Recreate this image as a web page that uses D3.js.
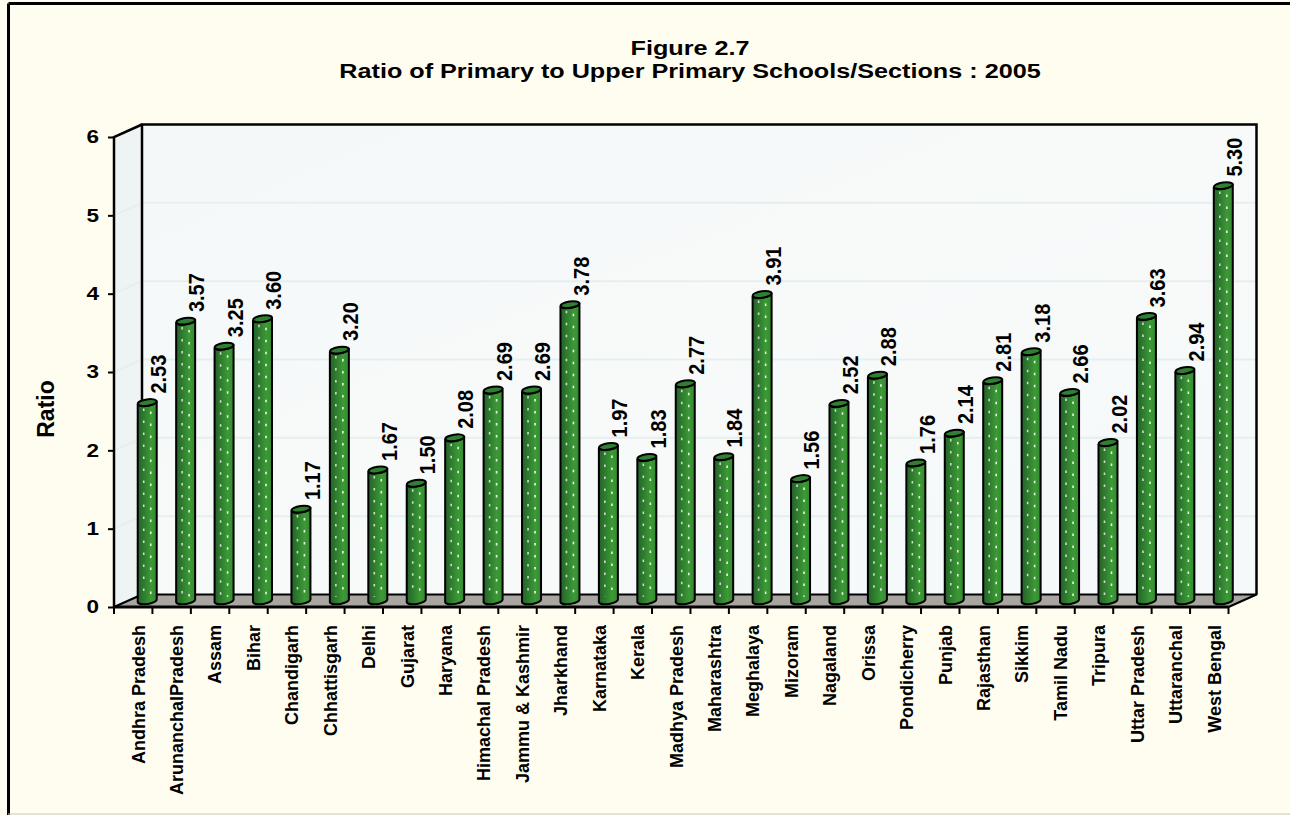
<!DOCTYPE html>
<html>
<head>
<meta charset="utf-8">
<script src="https://cdn.jsdelivr.net/npm/d3@7"></script>
<style>
html,body{margin:0;padding:0;background:#FFFDF0;}
svg{display:block;}
text{font-family:"Liberation Sans",Arial,sans-serif;font-weight:bold;fill:#000;}
</style>
</head>
<body>
<svg id="chart" width="1290" height="815"></svg>
<script>
const categories = ["Andhra Pradesh","ArunanchalPradesh","Assam","Bihar","Chandigarh","Chhattisgarh","Delhi","Gujarat","Haryana","Himachal Pradesh","Jammu & Kashmir","Jharkhand","Karnataka","Kerala","Madhya Pradesh","Maharashtra","Meghalaya","Mizoram","Nagaland","Orissa","Pondicherry","Punjab","Rajasthan","Sikkim","Tamil Nadu","Tripura","Uttar Pradesh","Uttaranchal","West Bengal"];
const values = [2.53,3.57,3.25,3.60,1.17,3.20,1.67,1.50,2.08,2.69,2.69,3.78,1.97,1.83,2.77,1.84,3.91,1.56,2.52,2.88,1.76,2.14,2.81,3.18,2.66,2.02,3.63,2.94,5.30];
const yTicks = [0,1,2,3,4,5,6];
const titleLines = ["Figure 2.7","Ratio of Primary to Upper Primary Schools/Sections : 2005"];
const yTitle = "Ratio";

const svg = d3.select("#chart");
const DX = 28, DY = -12.5;
const x = d3.scaleBand().domain(categories).range([114, 1228.5]).padding(0);
const y = d3.scaleLinear().domain([0, 6]).range([607, 137]);
const x0 = 114, x1 = 1228.5, y0 = y(0), yTop = y(6);

const defs = svg.append("defs");
const wallGrad = defs.append("linearGradient").attr("id","wall").attr("x1","0").attr("y1","0").attr("x2","1").attr("y2","1");
wallGrad.append("stop").attr("offset","0").attr("stop-color","#F4F8F8");
wallGrad.append("stop").attr("offset","0.5").attr("stop-color","#F8FAFA");
wallGrad.append("stop").attr("offset","1").attr("stop-color","#F5F9F9");
const barGrad = defs.append("linearGradient").attr("id","bar").attr("x1","0").attr("y1","0").attr("x2","1").attr("y2","0");
barGrad.append("stop").attr("offset","0").attr("stop-color","#25612A");
barGrad.append("stop").attr("offset","0.35").attr("stop-color","#2F7E2F");
barGrad.append("stop").attr("offset","0.7").attr("stop-color","#3C9A35");
barGrad.append("stop").attr("offset","1").attr("stop-color","#348A30");

// frame
svg.append("line").attr("x1",8.5).attr("y1",3.5).attr("x2",1290).attr("y2",3.5).attr("stroke","#000").attr("stroke-width",3);
svg.append("line").attr("x1",8.5).attr("y1",3.5).attr("x2",8.5).attr("y2",815).attr("stroke","#000").attr("stroke-width",3);
svg.append("line").attr("x1",8).attr("y1",814).attr("x2",1290).attr("y2",814).attr("stroke","#C8C8C0").attr("stroke-width",1);

// title
svg.selectAll("text.title").data(titleLines).enter().append("text")
  .attr("class","title")
  .attr("transform",(d,i)=>`translate(690,${55+i*23}) scale(1.2,1)`)
  .attr("text-anchor","middle").attr("font-size","21px").text(d=>d);

// side wall
svg.append("path")
  .attr("d",`M${x0},${y0}L${x0},${yTop}L${x0+DX},${yTop+DY}L${x0+DX},${y0+DY}Z`)
  .attr("fill","#EEF3F3");
// back wall
svg.append("rect").attr("x",x0+DX).attr("y",yTop+DY).attr("width",x1-x0).attr("height",y0-yTop)
  .attr("fill","url(#wall)");

// gridlines
const gl = svg.append("g");
yTicks.filter(t=>t>0 && t<6).forEach(t=>{
  gl.append("line").attr("x1",x0+DX).attr("x2",x1+DX).attr("y1",y(t)+DY).attr("y2",y(t)+DY)
    .attr("stroke","#E6EEEE").attr("stroke-width",2);
  gl.append("line").attr("x1",x0).attr("x2",x0+DX).attr("y1",y(t)).attr("y2",y(t)+DY)
    .attr("stroke","#E6EEEE").attr("stroke-width",2);
});

// floor
svg.append("path")
  .attr("d",`M${x0},${y0}L${x0+DX},${y0+DY}L${x1+DX},${y0+DY}L${x1},${y0}Z`)
  .attr("fill","#A9A5A1").attr("stroke","#000").attr("stroke-width",2).attr("stroke-linejoin","round");

// wall outlines
svg.append("path")
  .attr("d",`M${x0+DX},${y0+DY}L${x0+DX},${yTop+DY}L${x1+DX},${yTop+DY}L${x1+DX},${y0+DY}`)
  .attr("fill","none").attr("stroke","#000").attr("stroke-width",2.5);
svg.append("path")
  .attr("d",`M${x0},${y0}L${x0},${yTop}L${x0+DX},${yTop+DY}`)
  .attr("fill","none").attr("stroke","#000").attr("stroke-width",2.5);
svg.append("line").attr("x1",x0).attr("x2",x1).attr("y1",y0).attr("y2",y0)
  .attr("stroke","#000").attr("stroke-width",3);

// y axis
const yAxis = svg.append("g").attr("transform",`translate(${x0},0)`)
  .call(d3.axisLeft(y).tickValues(yTicks).tickSize(6).tickFormat(""));
yAxis.select(".domain").remove();
yAxis.selectAll(".tick line").attr("stroke","#000").attr("stroke-width",2);
svg.append("g").selectAll("text").data(yTicks).enter().append("text")
  .attr("transform",d=>`translate(99,${y(d)}) scale(1.25,1)`)
  .attr("text-anchor","end").attr("dy","0.35em").attr("font-size","18px")
  .text(d3.format("d"));

// x axis ticks
const xt = svg.append("g");
d3.range(categories.length+1).forEach(i=>{
  const xx = x0 + i*x.step();
  xt.append("line").attr("x1",xx).attr("x2",xx).attr("y1",y0).attr("y2",y0+7).attr("stroke","#000").attr("stroke-width",2);
});
svg.append("g").selectAll("text").data(categories).enter().append("text")
  .attr("transform",d=>`translate(${x(d)+x.bandwidth()/2+5},625) rotate(-90)`)
  .attr("text-anchor","end").attr("dy","0.35em").attr("font-size","18px").text(d=>d);

// y title
svg.append("text").attr("transform","translate(46,409) rotate(-90)")
  .attr("text-anchor","middle").attr("dy","0.35em").attr("font-size","23px").text(yTitle);

// bars
const R = 9.5, E = 3.2;
const bars = svg.append("g");
categories.forEach((c,i)=>{
  const v = values[i];
  const cx = x(c) + x.bandwidth()/2 + DX/2;
  const yb = y(0) + DY/2;
  const yt = y(v) + DY/2;
  const g = bars.append("g");
  g.append("path")
    .attr("d",`M${cx-R},${yt+1.5}L${cx-R},${yb+1.5}A${R},${E} -8 0 0 ${cx+R},${yb-1.5}L${cx+R},${yt-1.5}A${R},${E} -8 0 1 ${cx-R},${yt+1.5}Z`)
    .attr("fill","url(#bar)").attr("stroke","#000").attr("stroke-width",2);
  [-3.5, 3.5].forEach((off,k)=>{
    g.append("line").attr("x1",cx+off).attr("x2",cx+off).attr("y1",yt+6+k*3).attr("y2",yb-4)
      .attr("stroke","#FFFFFF").attr("stroke-opacity",k?0.9:0.75).attr("stroke-width",1.6)
      .attr("stroke-dasharray","2.5 9.5");
  });
  g.append("ellipse").attr("cx",cx).attr("cy",yt).attr("rx",R).attr("ry",E)
    .attr("transform",`rotate(-8,${cx},${yt})`)
    .attr("fill","#2F8030").attr("stroke","#000").attr("stroke-width",2);
  g.append("text")
    .attr("transform",`translate(${cx+11},${yt-9}) rotate(-90) scale(1,1.1)`)
    .attr("text-anchor","start").attr("dy","0.35em").attr("font-size","20px")
    .text(d3.format(".2f")(v));
});
</script>
</body>
</html>
